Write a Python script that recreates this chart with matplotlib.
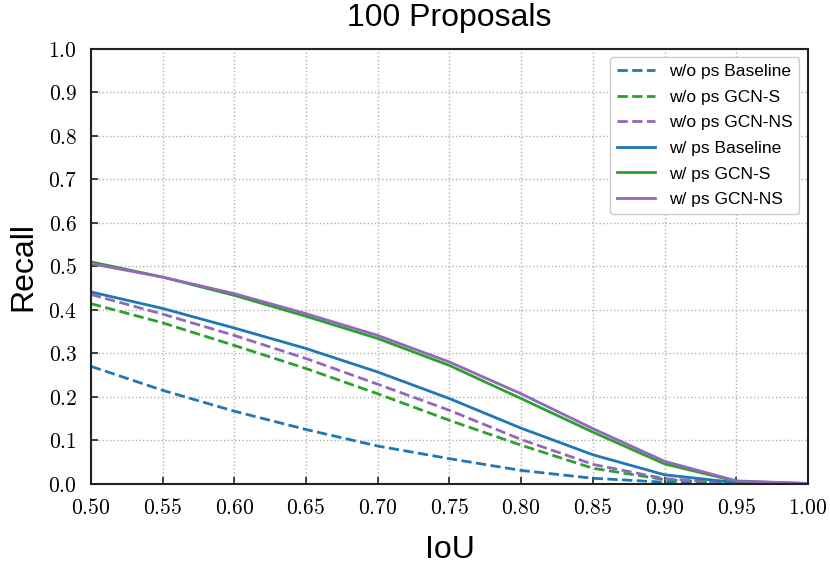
import matplotlib
matplotlib.use('Agg')
import matplotlib.pyplot as plt
from matplotlib.ticker import FuncFormatter, MultipleLocator
import numpy as np

plt.rcParams['mathtext.fontset'] = 'cm'
plt.rcParams['font.family'] = 'Liberation Sans'

# IoU thresholds
iou = [0.50, 0.55, 0.60, 0.65, 0.70, 0.75, 0.80, 0.85, 0.90, 0.95, 1.00]

# recall values
wo_baseline = [0.270, 0.215, 0.167, 0.125, 0.087, 0.058, 0.031, 0.013, 0.004, 0.001, 0.000]
wo_gcn_s = [0.414, 0.370, 0.318, 0.265, 0.207, 0.146, 0.089, 0.036, 0.010, 0.001, 0.000]
wo_gcn_ns = [0.435, 0.390, 0.341, 0.288, 0.229, 0.169, 0.102, 0.045, 0.012, 0.002, 0.000]
w_baseline = [0.441, 0.403, 0.358, 0.311, 0.257, 0.196, 0.128, 0.067, 0.021, 0.003, 0.000]
w_gcn_s = [0.510, 0.475, 0.433, 0.385, 0.334, 0.272, 0.196, 0.119, 0.046, 0.006, 0.001]
w_gcn_ns = [0.506, 0.475, 0.437, 0.391, 0.341, 0.280, 0.207, 0.127, 0.052, 0.007, 0.001]

fig = plt.figure(figsize=(8.3, 5.68), dpi=100)
ax = fig.add_axes([0.1096, 0.148, 0.8639, 0.7666])

lw = 2
ax.plot(iou, wo_baseline, '--', color='tab:blue', lw=lw, label='w/o ps Baseline')
ax.plot(iou, wo_gcn_s, '--', color='tab:green', lw=lw, label='w/o ps GCN-S')
ax.plot(iou, wo_gcn_ns, '--', color='tab:purple', lw=lw, label='w/o ps GCN-NS')
ax.plot(iou, w_baseline, '-', color='tab:blue', lw=lw, label='w/ ps Baseline')
ax.plot(iou, w_gcn_s, '-', color='tab:green', lw=lw, label='w/ ps GCN-S')
ax.plot(iou, w_gcn_ns, '-', color='tab:purple', lw=lw, label='w/ ps GCN-NS')

ax.set_xlim(0.5, 1.0)
ax.set_ylim(0.0, 1.0)
ax.xaxis.set_major_locator(MultipleLocator(0.05))
ax.yaxis.set_major_locator(MultipleLocator(0.1))
ax.xaxis.set_major_formatter(FuncFormatter(lambda v, p: r'$%.2f$' % v))
ax.yaxis.set_major_formatter(FuncFormatter(lambda v, p: r'$%.1f$' % v))
ax.tick_params(direction='in', length=5, width=1.2, labelsize=15.5, pad=10, color='#222222')

ax.grid(True, linestyle=':', color='#b0b0b0', lw=1)
for s in ax.spines.values():
    s.set_linewidth(1.5)
    s.set_color('#222222')

ax.set_title('100 Proposals', fontsize=23, pad=16)
ax.set_xlabel('IoU', fontsize=23, labelpad=12)
ax.set_ylabel('Recall', fontsize=23, labelpad=7)

leg = ax.legend(loc='upper right', fontsize=12.5, frameon=True, fancybox=True,
                edgecolor='#cccccc', framealpha=1, handlelength=2.2,
                borderaxespad=0.5, labelspacing=0.6)
leg.get_frame().set_linewidth(1)

fig.savefig('out.png', dpi=100)
